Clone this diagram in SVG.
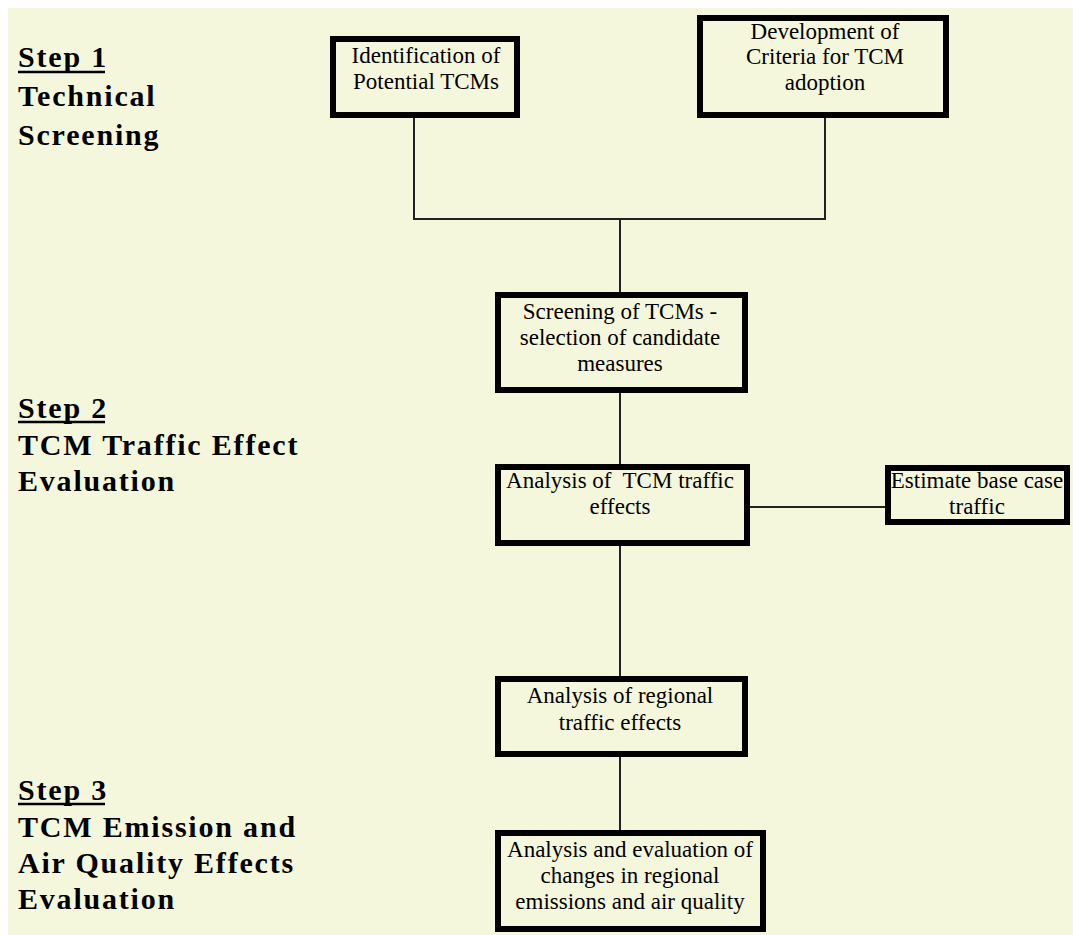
<svg xmlns="http://www.w3.org/2000/svg" width="1073" height="935" viewBox="0 0 1073 935">
<style>
.bg{fill:#F5F7DC}
.box{fill:#F5F7DC;stroke:#000;stroke-width:6}
.con{fill:none;stroke:#222;stroke-width:2}
.t{font-family:'Liberation Serif','Times New Roman','DejaVu Serif',serif;font-size:23px;fill:#000;text-anchor:middle}
.s{font-family:'Liberation Serif','Times New Roman','DejaVu Serif',serif;font-size:30px;font-weight:bold;letter-spacing:1.8px;fill:#000}
.u{fill:none;stroke:#000;stroke-width:2.5}
</style>
<rect x="0" y="0" width="1073" height="935" fill="#fff"/>
<rect class="bg" x="8" y="8" width="1065" height="927"/>
<g id="connectors">
<polyline class="con" points="414,118 414,219 825,219 825,118"/>
<line class="con" x1="620" y1="219" x2="620" y2="292"/>
<line class="con" x1="620" y1="393" x2="620" y2="464"/>
<line class="con" x1="620" y1="546" x2="620" y2="676"/>
<line class="con" x1="620" y1="757" x2="620" y2="830"/>
<line class="con" x1="750" y1="507" x2="885" y2="507"/>
</g>
<g id="step1">
<text class="s" x="18" y="67">Step 1</text>
<line class="u" x1="18" y1="72" x2="105" y2="72"/>
<text class="s" x="18" y="106">Technical</text>
<text class="s" x="18" y="145">Screening</text>
</g>
<g id="step2">
<text class="s" x="18" y="418">Step 2</text>
<line class="u" x1="18" y1="422" x2="105" y2="422"/>
<text class="s" x="18" y="455">TCM Traffic Effect</text>
<text class="s" x="18" y="491">Evaluation</text>
</g>
<g id="step3">
<text class="s" x="18" y="800">Step 3</text>
<line class="u" x1="18" y1="804" x2="105" y2="804"/>
<text class="s" x="18" y="837">TCM Emission and</text>
<text class="s" x="18" y="873">Air Quality Effects</text>
<text class="s" x="18" y="909">Evaluation</text>
</g>
<g id="identification">
<rect class="box" x="333" y="39" width="184" height="76"/>
<text class="t" x="426" y="63">Identification of</text>
<text class="t" x="426" y="89">Potential TCMs</text>
</g>
<g id="criteria">
<rect class="box" x="700" y="18" width="246" height="97"/>
<text class="t" x="825" y="39">Development of</text>
<text class="t" x="825" y="64">Criteria for TCM</text>
<text class="t" x="825" y="90">adoption</text>
</g>
<g id="screening">
<rect class="box" x="498" y="295" width="247" height="95"/>
<text class="t" x="620" y="319">Screening of TCMs -</text>
<text class="t" x="620" y="345">selection of candidate</text>
<text class="t" x="620" y="371">measures</text>
</g>
<g id="traffic-effects">
<rect class="box" x="498" y="467" width="249" height="76"/>
<text class="t" x="620" y="488" xml:space="preserve">Analysis of  TCM traffic</text>
<text class="t" x="620" y="514">effects</text>
</g>
<g id="base-case">
<rect class="box" x="888" y="468" width="179" height="54"/>
<text class="t" x="977" y="488">Estimate base case</text>
<text class="t" x="977" y="514">traffic</text>
</g>
<g id="regional">
<rect class="box" x="498" y="679" width="247" height="75"/>
<text class="t" x="620" y="703">Analysis of regional</text>
<text class="t" x="620" y="730">traffic effects</text>
</g>
<g id="emissions">
<rect class="box" x="498" y="833" width="265" height="96"/>
<text class="t" x="630" y="857">Analysis and evaluation of</text>
<text class="t" x="630" y="883">changes in regional</text>
<text class="t" x="630" y="909">emissions and air quality</text>
</g>
</svg>
